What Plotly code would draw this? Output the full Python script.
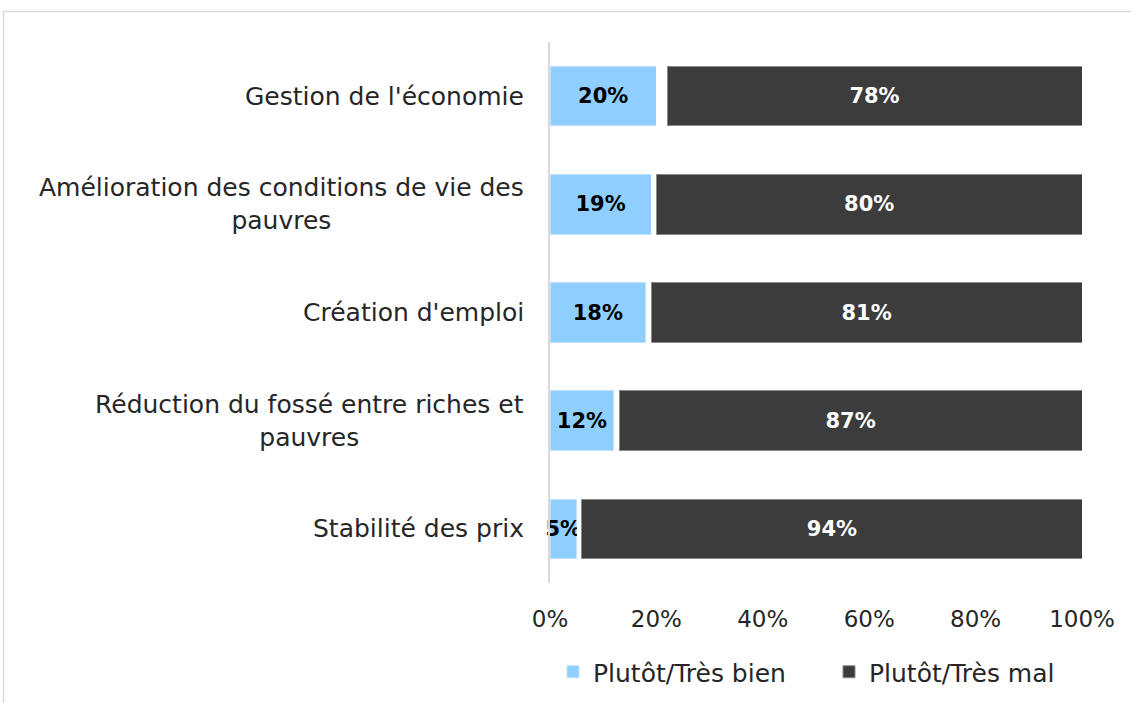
import plotly.graph_objects as go

categories = [
    "Gestion de l'économie",
    "Amélioration des conditions de vie des<br>pauvres",
    "Création d'emploi",
    "Réduction du fossé entre riches et<br>pauvres",
    "Stabilité des prix",
]
bien = [20, 19, 18, 12, 5]
nsp = [2, 1, 1, 1, 1]
mal = [78, 80, 81, 87, 94]
tick_vals = [0, 20, 40, 60, 80, 100]
tick_text = ["0%", "20%", "40%", "60%", "80%", "100%"]

FONT = "'DejaVu Sans', sans-serif"
W, H = 1131, 703
L, R, T, B = 550, 49, 42, 120
pw, ph = W - L - R, H - T - B

ypos = list(range(len(categories)))[::-1]

fig = go.Figure()
fig.add_trace(go.Bar(
    y=ypos, x=bien, orientation="h", name="Plutôt/Très bien", legend="legend",
    marker=dict(color="#8ECFFF", line=dict(color="#BFE3FF", width=1)),
    text=[f"{v}%" for v in bien], textposition="inside", insidetextanchor="middle",
    textangle=0, cliponaxis=False,
    textfont=dict(family=FONT, size=21, color="#000000", weight="bold"),
    constraintext="none",
))
fig.add_trace(go.Bar(
    y=ypos, x=nsp, orientation="h", name="NSP", showlegend=False,
    marker=dict(color="#FFFFFF", line=dict(width=0)), hoverinfo="skip",
))
fig.add_trace(go.Bar(
    y=ypos, x=mal, orientation="h", name="Plutôt/Très mal", legend="legend2",
    marker=dict(color="#3C3C3C", line=dict(color="#8A8A8A", width=1)),
    text=[f"{v}%" for v in mal], textposition="inside", insidetextanchor="middle",
    textangle=0,
    textfont=dict(family=FONT, size=21, color="#FFFFFF", weight="bold"),
    constraintext="none",
))

for yp, cat in zip(ypos, categories):
    fig.add_annotation(
        x=-24 / pw, xref="paper", y=yp, yref="y", text=cat, showarrow=False,
        xanchor="right", yanchor="middle", align="center",
        font=dict(family=FONT, size=25, color="#262626"),
    )

px = lambda x: (x - L) / pw
py = lambda y: (H - B - y) / ph
fig.add_shape(type="line", xref="paper", yref="paper", x0=px(3), x1=px(1131), y0=py(11.5), y1=py(11.5),
              line=dict(color="#D9D9D9", width=1.5))
fig.add_shape(type="line", xref="paper", yref="paper", x0=px(3.5), x1=px(3.5), y0=py(11.5), y1=py(703),
              line=dict(color="#D9D9D9", width=1.5))

legend_style = dict(orientation="h", xanchor="left", yanchor="middle", y=py(672),
                    font=dict(family=FONT, size=25, color="#262626"), itemwidth=30,
                    bgcolor="rgba(0,0,0,0)")

fig.update_layout(
    width=W, height=H, barmode="stack", bargap=0.45,
    margin=dict(l=L, r=R, t=T, b=B, autoexpand=False),
    plot_bgcolor="white", paper_bgcolor="white",
    uniformtext=dict(minsize=21, mode="show"),
    font=dict(family=FONT, color="#262626"),
    xaxis=dict(range=[0, 100], tickvals=tick_vals, ticktext=tick_text, showgrid=False,
               zeroline=False, showline=False, ticks="", ticklabelstandoff=20,
               tickfont=dict(family=FONT, size=23, color="#262626")),
    yaxis=dict(range=[-0.5, 4.5], showticklabels=False, showgrid=False, zeroline=False,
               showline=True, linecolor="#D9D9D9", linewidth=2, ticks=""),
    legend=dict(x=px(553), **legend_style),
    legend2=dict(x=px(829), **legend_style),
    showlegend=True,
)

fig.write_html("out.html", config={"displayModeBar": False},
               post_script="document.body.style.margin='0';document.body.style.overflow='hidden';")
